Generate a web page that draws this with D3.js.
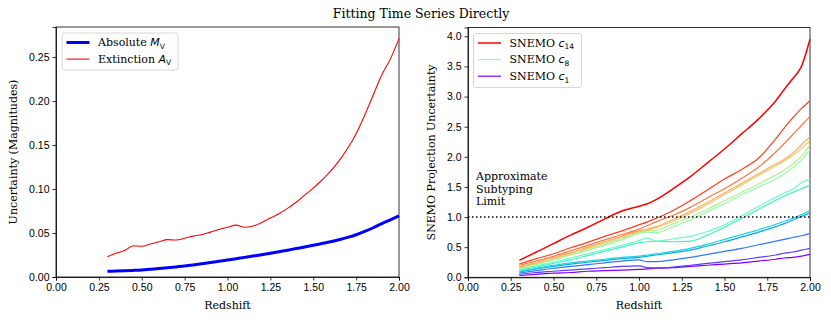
<!DOCTYPE html>
<html>
<head>
<meta charset="utf-8">
<script src="https://cdn.jsdelivr.net/npm/d3@7"></script>
<style>
  body { margin: 0; background: #fff; }
  svg { font-family: "DejaVu Serif", serif; }
  .axis text { font-size: 10.5px; fill: #000; }
  .axis path, .axis line { stroke: #000; stroke-width: 0.8; }
</style>
</head>
<body>
<svg id="chart" width="831" height="320"></svg>
<script>
// ---- data ----
const xTicks = [0, 0.25, 0.5, 0.75, 1.0, 1.25, 1.5, 1.75, 2.0];
const leftYTicks = [0, 0.05, 0.10, 0.15, 0.20, 0.25];
const rightYTicks = [0, 0.5, 1.0, 1.5, 2.0, 2.5, 3.0, 3.5, 4.0];

// left panel redshift grid
const zLeft = [0.30, 0.35, 0.40, 0.45, 0.50, 0.55, 0.60, 0.65, 0.70, 0.75, 0.80, 0.85,
  0.90, 0.95, 1.00, 1.05, 1.10, 1.15, 1.20, 1.25, 1.30, 1.35, 1.40, 1.45, 1.50, 1.55,
  1.60, 1.65, 1.70, 1.75, 1.80, 1.85, 1.90, 1.95, 2.00];
const absoluteMV = [0.0065, 0.0068, 0.0071, 0.0075, 0.0080, 0.0088, 0.0096, 0.0105, 0.0115,
  0.0125, 0.0137, 0.0150, 0.0164, 0.0178, 0.0193, 0.0208, 0.0223, 0.0238, 0.0254, 0.0270,
  0.0287, 0.0305, 0.0323, 0.0341, 0.0360, 0.0380, 0.0400, 0.0424, 0.0450, 0.0480, 0.0518,
  0.0560, 0.0608, 0.0650, 0.0695];
const extinctionAV = [0.023, 0.027, 0.030, 0.0355, 0.035, 0.0375, 0.040, 0.0425, 0.042, 0.044,
  0.0465, 0.048, 0.051, 0.054, 0.0565, 0.059, 0.0565, 0.058, 0.062, 0.067, 0.072, 0.078,
  0.085, 0.093, 0.101, 0.110, 0.120, 0.132, 0.146, 0.163, 0.184, 0.207, 0.230, 0.248, 0.271];

// right panel redshift grid
const zRight = [0.3, 0.4, 0.5, 0.6, 0.7, 0.8, 0.9, 1.0, 1.05, 1.1, 1.2, 1.3, 1.4, 1.5,
  1.6, 1.7, 1.8, 1.85, 1.9, 1.95, 2.0];
const c1  = [0.03, 0.05, 0.07, 0.08, 0.10, 0.11, 0.12, 0.13, 0.14, 0.15, 0.16, 0.18, 0.20, 0.22, 0.24, 0.27, 0.30, 0.32, 0.33, 0.35, 0.38];
const c2  = [0.05, 0.08, 0.10, 0.12, 0.14, 0.16, 0.18, 0.19, 0.16, 0.155, 0.17, 0.20, 0.23, 0.26, 0.29, 0.33, 0.37, 0.40, 0.42, 0.45, 0.48];
const c3  = [0.07, 0.11, 0.15, 0.18, 0.21, 0.24, 0.27, 0.29, 0.26, 0.26, 0.29, 0.33, 0.38, 0.43, 0.48, 0.54, 0.60, 0.63, 0.66, 0.69, 0.73];
const c4  = [0.09, 0.14, 0.18, 0.22, 0.25, 0.28, 0.31, 0.33, 0.35, 0.37, 0.41, 0.45, 0.52, 0.59, 0.67, 0.75, 0.84, 0.89, 0.95, 1.01, 1.07];
const c5  = [0.10, 0.15, 0.20, 0.24, 0.27, 0.30, 0.33, 0.35, 0.37, 0.39, 0.43, 0.48, 0.55, 0.63, 0.71, 0.79, 0.88, 0.93, 0.98, 1.04, 1.11];
const c6  = [0.12, 0.17, 0.23, 0.29, 0.36, 0.43, 0.50, 0.57, 0.59, 0.60, 0.59, 0.60, 0.70, 0.83, 0.98, 1.13, 1.28, 1.35, 1.41, 1.47, 1.53];
const c7  = [0.13, 0.19, 0.25, 0.32, 0.39, 0.46, 0.53, 0.61, 0.65, 0.60, 0.64, 0.68, 0.76, 0.87, 1.02, 1.18, 1.33, 1.40, 1.46, 1.57, 1.63];
const c8  = [0.14, 0.21, 0.29, 0.37, 0.45, 0.53, 0.62, 0.73, 0.75, 0.74, 0.84, 0.95, 1.09, 1.22, 1.37, 1.50, 1.63, 1.72, 1.82, 1.95, 2.12];
const c9  = [0.15, 0.22, 0.30, 0.38, 0.46, 0.55, 0.64, 0.76, 0.77, 0.78, 0.89, 1.00, 1.13, 1.27, 1.41, 1.55, 1.70, 1.78, 1.88, 2.01, 2.20];
const c10 = [0.16, 0.23, 0.31, 0.39, 0.48, 0.57, 0.66, 0.75, 0.78, 0.82, 0.93, 1.06, 1.21, 1.37, 1.53, 1.69, 1.85, 1.93, 2.02, 2.14, 2.27];
const c11 = [0.17, 0.25, 0.33, 0.41, 0.50, 0.59, 0.68, 0.77, 0.80, 0.84, 0.96, 1.09, 1.24, 1.40, 1.56, 1.72, 1.88, 1.96, 2.06, 2.20, 2.33];
const c12 = [0.20, 0.27, 0.35, 0.44, 0.53, 0.62, 0.71, 0.80, 0.86, 0.92, 1.03, 1.16, 1.32, 1.47, 1.64, 1.83, 2.08, 2.22, 2.37, 2.52, 2.67];
const c13 = [0.22, 0.31, 0.39, 0.49, 0.58, 0.68, 0.77, 0.87, 0.92, 0.98, 1.11, 1.27, 1.45, 1.63, 1.79, 1.98, 2.30, 2.48, 2.65, 2.80, 2.93];
const c14 = [0.28, 0.42, 0.56, 0.70, 0.83, 0.97, 1.10, 1.18, 1.22, 1.29, 1.47, 1.67, 1.90, 2.13, 2.38, 2.63, 2.93, 3.12, 3.30, 3.50, 3.95];
const snemo = [c1, c2, c3, c4, c5, c6, c7, c8, c9, c10, c11, c12, c13, c14];
const subtypingLimit = 1.0;

// matplotlib "rainbow" colormap
function rainbow(t) {
  const r = Math.min(1, Math.abs(2 * t - 0.5));
  const g = Math.max(0, Math.sin(Math.PI * t));
  const b = Math.max(0, Math.cos(Math.PI * t / 2));
  return d3.rgb(r * 255, g * 255, b * 255).formatHex();
}

const svg = d3.select("#chart");

// title
svg.append("text")
  .attr("x", 421).attr("y", 18)
  .attr("text-anchor", "middle")
  .style("font-size", "12.5px")
  .text("Fitting Time Series Directly");

function topLimit(arrs) {
  const all = arrs.flat();
  const lo = d3.min(all), hi = d3.max(all);
  return hi + 0.05 * (hi - lo);
}

function panel(box, yDomain, yTicks, yFmt, yLabel) {
  const x = d3.scaleLinear().domain([0, 2]).range([box.x0, box.x1]);
  const y = d3.scaleLinear().domain(yDomain).range([box.y1, box.y0]);
  const g = svg.append("g");

  g.append("g").attr("class", "axis")
    .attr("transform", `translate(0,${box.y1})`)
    .call(d3.axisBottom(x).tickValues(xTicks).tickFormat(d3.format(".2f")).tickSizeOuter(0).tickSize(3.5).tickPadding(3));
  g.append("g").attr("class", "axis")
    .attr("transform", `translate(${box.x0},0)`)
    .call(d3.axisLeft(y).tickValues(yTicks).tickFormat(d3.format(yFmt)).tickSizeOuter(0).tickSize(3.5).tickPadding(3));

  // frame
  g.append("rect")
    .attr("x", box.x0).attr("y", box.y0)
    .attr("width", box.x1 - box.x0).attr("height", box.y1 - box.y0)
    .attr("fill", "none").attr("stroke", "#000").attr("stroke-width", 0.8);

  g.append("text")
    .attr("x", (box.x0 + box.x1) / 2).attr("y", box.y1 + 32)
    .attr("text-anchor", "middle").style("font-size", "11px")
    .text("Redshift");
  g.append("text")
    .attr("transform", `translate(${box.ylx},${(box.y0 + box.y1) / 2}) rotate(-90)`)
    .attr("text-anchor", "middle").attr("dy", "0.35em").style("font-size", "11px")
    .text(yLabel);
  return { x, y, g };
}

function mathLabel(sel, plain, sym, sub) {
  sel.append("tspan").text(plain);
  sel.append("tspan").style("font-family", "DejaVu Sans").style("font-style", "oblique").text(sym);
  sel.append("tspan").style("font-family", "DejaVu Sans").style("font-size", "7.5px")
    .attr("dy", 2.5).text(sub);
}

function legend(g, bx, by, w, h, items) {
  g.append("rect").attr("x", bx).attr("y", by).attr("width", w).attr("height", h)
    .attr("rx", 2.5).attr("fill", "#fff").attr("fill-opacity", 0.8)
    .attr("stroke", "#ccc").attr("stroke-width", 0.8);
  items.forEach((it, i) => {
    const yy = by + 9.5 + i * 16.6;
    g.append("line").attr("x1", bx + 4.5).attr("x2", bx + 27.5).attr("y1", yy).attr("y2", yy)
      .attr("stroke", it.color).attr("stroke-width", it.width);
    const t = g.append("text").attr("x", bx + 36).attr("y", yy).attr("dy", "0.35em")
      .style("font-size", "11px");
    mathLabel(t, it.plain, it.sym, it.sub);
  });
}

// ---- left panel ----
const L = panel({ x0: 56, x1: 399, y0: 27, y1: 277, ylx: 13 },
  [0, topLimit([absoluteMV, extinctionAV])], leftYTicks, ".2f", "Uncertainty (Magnitudes)");
const lineL = (vals) => d3.line().curve(d3.curveMonotoneX)
  .x((d, i) => L.x(zLeft[i])).y(d => L.y(d))(vals);
L.g.append("path").attr("d", lineL(absoluteMV)).attr("fill", "none")
  .attr("stroke", "#0000ff").attr("stroke-width", 3);
L.g.append("path").attr("d", lineL(extinctionAV)).attr("fill", "none")
  .attr("stroke", "#ff0000").attr("stroke-width", 1.1);
legend(L.g, 62, 33, 116, 37, [
  { color: "#0000ff", width: 3, plain: "Absolute ", sym: "M", sub: "V" },
  { color: "#ff0000", width: 1.1, plain: "Extinction ", sym: "A", sub: "V" }
]);

// ---- right panel ----
const R = panel({ x0: 468, x1: 810, y0: 27.5, y1: 277.3, ylx: 431 },
  [0, topLimit(snemo)], rightYTicks, ".1f", "SNEMO Projection Uncertainty");
const lineR = (vals) => d3.line().curve(d3.curveMonotoneX)
  .x((d, i) => R.x(zRight[i])).y(d => R.y(d))(vals);
snemo.forEach((vals, k) => {
  R.g.append("path").attr("d", lineR(vals)).attr("fill", "none")
    .attr("stroke", rainbow(k / (snemo.length - 1)))
    .attr("stroke-width", k === snemo.length - 1 ? 1.5 : 1.2);
});
R.g.append("line")
  .attr("x1", R.x(0)).attr("x2", R.x(2))
  .attr("y1", R.y(subtypingLimit)).attr("y2", R.y(subtypingLimit))
  .attr("stroke", "#000").attr("stroke-width", 1.5).attr("stroke-dasharray", "1.5,2.5");
const note = R.g.append("text").style("font-size", "11px");
["Approximate", "Subtyping", "Limit"].forEach((s, i) => {
  note.append("tspan").attr("x", 476).attr("y", 180 + i * 12.7).text(s);
});
legend(R.g, 473.5, 33.5, 108, 54, [
  { color: rainbow(1), width: 1.5, plain: "SNEMO ", sym: "c", sub: "14" },
  { color: rainbow(7 / 13), width: 1.2, plain: "SNEMO ", sym: "c", sub: "8" },
  { color: rainbow(0), width: 1.2, plain: "SNEMO ", sym: "c", sub: "1" }
]);
</script>
</body>
</html>
